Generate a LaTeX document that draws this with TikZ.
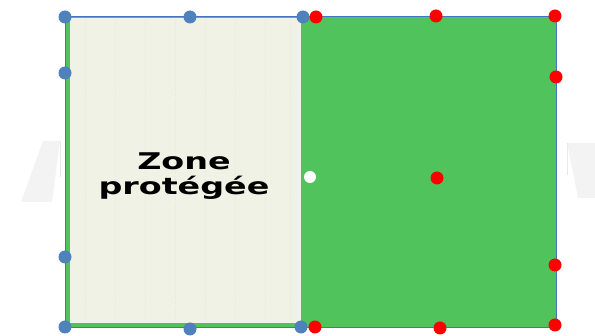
\documentclass[tikz,border=0pt]{standalone}
\usepackage{fontspec}
\setmainfont{DejaVu Sans}
\usepackage{tikz}
\usetikzlibrary{positioning}
\definecolor{fieldgreen}{RGB}{80,195,92}
\definecolor{zonepale}{RGB}{240,242,229}
\definecolor{edgeblue}{RGB}{68,114,196}
\definecolor{dotblue}{RGB}{79,129,189}
\definecolor{goalgrey}{RGB}{243,243,243}
\tikzset{bdot/.style = {fill=dotblue, circle, inner sep = 0, minimum size = 13}}
\tikzset{rdot/.style = {fill=red, circle, inner sep = 0, minimum size = 13}}
\tikzset{wdot/.style = {fill=white, circle, inner sep = 0, minimum size = 12}}

\begin{document}
\begin{tikzpicture}[x=1pt, y=-1pt]
  \useasboundingbox (0,0) rectangle (595,336);
  % goals behind the field
  \fill[goalgrey] (43,141) -- (60,141) -- (52,202) -- (21,202) -- cycle;
  \draw[goalgrey!90!gray, thin] (60,141) -- (60,177);
  \fill[goalgrey] (567,143) -- (595,143) -- (595,198) -- (578,198) -- cycle;
  \draw[goalgrey!90!gray, thin] (567,143) -- (567,175);
  % field
  \draw[edgeblue, fill=fieldgreen, line width=1pt] (65,17) rectangle (556,328);
  \fill[zonepale] (70,18) rectangle (301,323);
  \foreach \x in {85,115,145,175,205,235,265,290}
    \draw[zonepale!92!gray, dotted, line width=0.6pt] (\x,20) -- (\x,320);
  \node[font=\bfseries\fontsize{23}{25}\selectfont, align=center,
        xscale=1.45, transform shape] (zone) at (184,176) {Zone\\protégée};
  % blue points
  \node[bdot] (b1) at (65,17) {};
  \node[bdot] (b2) at (190,17) {};
  \node[bdot] (b3) at (303,17) {};
  \node[bdot] (b4) at (65,73) {};
  \node[bdot] (b5) at (65,257) {};
  \node[bdot] (b6) at (65,327) {};
  \node[bdot] (b7) at (190,329) {};
  \node[bdot] (b8) at (301,327) {};
  % red points
  \node[rdot] (r1) at (316,17) {};
  \node[rdot] (r2) at (436,16) {};
  \node[rdot] (r3) at (555,16) {};
  \node[rdot] (r4) at (556,77) {};
  \node[rdot] (r5) at (437,178) {};
  \node[rdot] (r6) at (555,265) {};
  \node[rdot] (r7) at (315,327) {};
  \node[rdot] (r8) at (440,328) {};
  \node[rdot] (r9) at (555,325) {};
  % white point
  \node[wdot] (w1) at (310,177) {};
\end{tikzpicture}
\end{document}
